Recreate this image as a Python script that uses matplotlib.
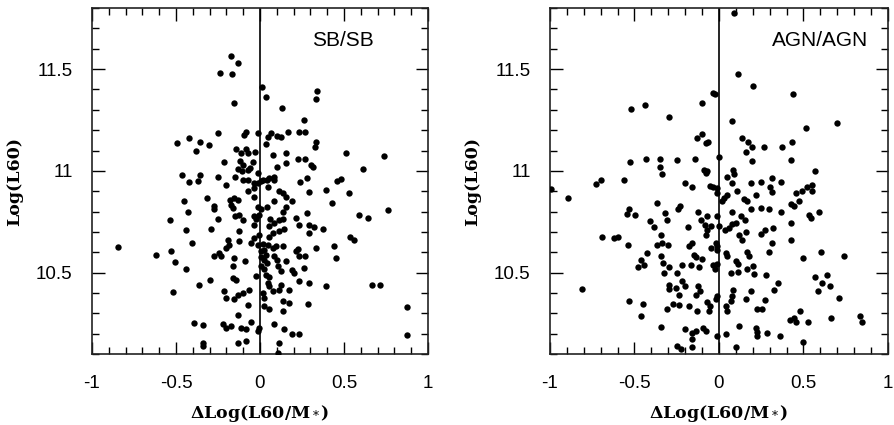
import matplotlib
matplotlib.use("Agg")
import matplotlib.pyplot as plt
from matplotlib.ticker import MultipleLocator

# (x, y) = (Delta log(L60/M*), log(L60))
sb_points = [
    (-0.172, 11.566), (-0.132, 11.53), (-0.24, 11.48), (-0.166, 11.475), (-0.154, 11.333),
    (-0.496, 11.136), (-0.422, 11.16), (-0.356, 11.144), (-0.378, 11.097), (-0.302, 11.128),
    (-0.466, 10.98), (-0.356, 10.98), (-0.422, 10.943), (-0.366, 10.95),
    (0.014, 11.41), (0.034, 11.364), (0.34, 11.393), (0.334, 11.351), (0.134, 11.311), (0.26, 11.25),
    (0.334, 11.144), (0.326, 11.118), (0.514, 11.087), (0.736, 11.074), (0.616, 11.008),
    (0.306, 11.03), (0.314, 11.02), (0.46, 10.95), (0.484, 10.96), (0.28, 10.964),
    (0.266, 11.06), (0.266, 11.19),
    (0.29, 10.897), (0.396, 10.905), (0.532, 10.892), (0.43, 10.844), (0.762, 10.808),
    (0.59, 10.782), (0.644, 10.767), (0.28, 10.795), (0.29, 10.736), (0.32, 10.725),
    (0.294, 10.695), (0.374, 10.716), (0.538, 10.675), (0.562, 10.662), (0.336, 10.621),
    (0.442, 10.63), (0.45, 10.57), (0.266, 10.582), (0.264, 10.523), (0.294, 10.451),
    (0.396, 10.434), (0.664, 10.441), (0.716, 10.441), (0.286, 10.348), (0.876, 10.333),
    (0.876, 10.195),
    (-0.45, 10.851), (-0.426, 10.80), (-0.538, 10.761), (-0.314, 10.867), (-0.276, 10.828),
    (-0.274, 10.815), (-0.442, 10.708), (-0.29, 10.716), (-0.404, 10.644), (-0.844, 10.626),
    (-0.618, 10.589), (-0.53, 10.607), (-0.506, 10.552), (-0.442, 10.516), (-0.276, 10.58),
    (-0.364, 10.438), (-0.296, 10.462), (-0.52, 10.403), (-0.39, 10.254), (-0.338, 10.241),
    (-0.338, 10.156), (-0.338, 10.139),
    (-0.252, 11.185), (-0.097, 11.176), (-0.083, 11.193), (-0.01, 11.185), (0.046, 11.168),
    (0.065, 11.185), (0.036, 11.131), (0.10, 11.17), (0.125, 11.168), (0.165, 11.193),
    (0.234, 11.193), (-0.143, 11.106), (-0.113, 11.087), (-0.083, 11.106), (-0.073, 11.087),
    (-0.03, 11.095), (0.075, 11.078), (0.155, 11.087), (-0.212, 11.042), (-0.117, 11.05),
    (-0.103, 11.03), (-0.044, 11.046), (0.10, 11.02), (0.155, 11.038), (0.224, 11.059),
    (-0.129, 11.008), (-0.109, 11.0), (-0.073, 11.005), (-0.058, 11.013), (-0.248, 10.972),
    (-0.149, 10.969), (-0.103, 10.953), (-0.073, 10.956), (-0.014, 10.992), (0.016, 10.956),
    (0.042, 10.953), (0.056, 10.967), (0.081, 10.972), (0.081, 10.953), (-0.202, 10.931),
    (-0.038, 10.94), (-0.01, 10.94), (0.006, 10.948), (0.24, 10.943), (-0.073, 10.899),
    (-0.034, 10.915), (0.046, 10.923), (0.115, 10.899), (0.135, 10.891), (-0.034, 10.871),
    (-0.177, 10.858), (-0.153, 10.866), (-0.129, 10.858), (-0.173, 10.833), (-0.163, 10.817),
    (0.155, 10.874), (0.188, 10.853), (0.085, 10.85), (0.042, 10.822), (0.006, 10.812),
    (-0.01, 10.822), (0.155, 10.822), (0.135, 10.8), (-0.149, 10.776), (-0.123, 10.784),
    (-0.103, 10.757), (-0.034, 10.776), (-0.024, 10.763), (-0.004, 10.784), (-0.248, 10.763),
    (0.062, 10.763), (0.085, 10.743), (0.115, 10.76), (0.135, 10.763), (0.214, 10.768),
    (0.234, 10.735), (-0.034, 10.735), (-0.123, 10.703), (0.115, 10.703), (0.145, 10.714),
    (0.056, 10.727), (0.075, 10.694), (0.056, 10.675), (-0.004, 10.686), (-0.038, 10.67),
    (-0.192, 10.662), (-0.182, 10.637), (-0.123, 10.654), (-0.054, 10.645), (-0.014, 10.637),
    (0.016, 10.642), (0.046, 10.637), (0.075, 10.621), (0.095, 10.632), (0.135, 10.629),
    (0.224, 10.616), (-0.202, 10.621), (-0.242, 10.596), (-0.232, 10.58), (-0.153, 10.572),
    (0.006, 10.605), (0.026, 10.609), (0.036, 10.588), (0.006, 10.577), (0.026, 10.564),
    (0.042, 10.547), (0.085, 10.58), (0.10, 10.564), (0.155, 10.556), (0.214, 10.605),
    (0.234, 10.58), (-0.089, 10.556), (-0.163, 10.534), (0.006, 10.531), (0.026, 10.518),
    (0.105, 10.531), (0.125, 10.507), (0.188, 10.515), (0.204, 10.498), (-0.024, 10.482),
    (0.036, 10.49), (0.056, 10.479), (-0.163, 10.474), (-0.143, 10.466), (0.234, 10.461),
    (0.046, 10.449), (0.056, 10.433), (0.125, 10.441), (0.075, 10.408), (0.115, 10.413),
    (0.175, 10.417), (-0.216, 10.408), (-0.202, 10.376), (-0.133, 10.392), (-0.103, 10.4),
    (-0.063, 10.417), (0.016, 10.4), (-0.153, 10.368), (-0.073, 10.343), (0.026, 10.376),
    (0.026, 10.335), (0.056, 10.319), (0.135, 10.359), (0.175, 10.351), (0.135, 10.31),
    (-0.133, 10.294), (-0.054, 10.257), (-0.014, 10.212), (-0.004, 10.229), (-0.222, 10.25),
    (-0.202, 10.229), (-0.173, 10.237), (-0.113, 10.229), (-0.083, 10.221), (0.085, 10.25),
    (0.145, 10.224), (0.188, 10.196), (0.234, 10.196), (-0.133, 10.152), (-0.083, 10.163),
    (0.115, 10.152), (0.105, 10.106),
]

agn_points = [
    (-0.518, 11.303), (-0.44, 11.325), (-0.294, 11.266), (-0.1, 11.334), (-0.034, 11.385),
    (-0.024, 11.377), (-0.524, 11.046), (-0.43, 11.057), (-0.35, 11.057), (-0.35, 11.02),
    (-0.338, 10.984),
    (0.088, 11.775), (0.112, 11.474), (0.20, 11.415), (0.438, 11.38), (0.514, 11.213),
    (0.70, 11.233), (0.434, 11.144), (0.374, 11.118), (0.264, 11.118), (0.424, 11.052),
    (0.568, 11.0), (0.314, 10.967),
    (0.37, 10.946), (0.30, 10.921), (0.314, 10.897), (0.454, 10.892), (0.494, 10.902),
    (0.524, 10.921), (0.548, 10.929), (0.55, 10.902), (0.474, 10.852), (0.424, 10.839),
    (0.444, 10.826), (0.298, 10.811), (0.37, 10.798), (0.534, 10.782), (0.544, 10.766),
    (0.594, 10.798), (0.32, 10.721), (0.274, 10.708), (0.428, 10.746), (0.424, 10.659),
    (0.314, 10.646), (0.294, 10.602), (0.50, 10.57), (0.604, 10.603), (0.74, 10.58),
    (0.278, 10.487), (0.57, 10.479), (0.64, 10.489), (0.608, 10.449), (0.658, 10.433),
    (0.584, 10.41), (0.35, 10.449), (0.324, 10.416), (0.71, 10.377), (0.274, 10.367),
    (0.48, 10.31), (0.42, 10.269), (0.454, 10.257), (0.444, 10.279), (0.528, 10.257),
    (0.664, 10.279), (0.834, 10.285), (0.848, 10.257), (0.36, 10.189), (0.50, 10.159),
    (0.284, 10.205),
    (-0.73, 10.934), (-0.70, 10.957), (-0.562, 10.954), (-0.995, 10.913), (-0.894, 10.867),
    (-0.534, 10.815), (-0.544, 10.787), (-0.498, 10.782), (-0.368, 10.844), (-0.32, 10.795),
    (-0.308, 10.757), (-0.408, 10.754), (-0.384, 10.725), (-0.694, 10.675), (-0.624, 10.67),
    (-0.60, 10.675), (-0.54, 10.638), (-0.344, 10.687), (-0.368, 10.634), (-0.34, 10.646),
    (-0.30, 10.638), (-0.424, 10.598), (-0.344, 10.582), (-0.46, 10.564), (-0.48, 10.528),
    (-0.444, 10.536), (-0.33, 10.548), (-0.328, 10.498), (-0.294, 10.528), (-0.81, 10.418),
    (-0.298, 10.438), (-0.294, 10.421), (-0.534, 10.361), (-0.45, 10.348), (-0.464, 10.285),
    (-0.31, 10.32), (-0.274, 10.348), (-0.344, 10.233),
    (0.075, 11.247), (-0.132, 11.16), (-0.099, 11.181), (-0.079, 11.136), (-0.063, 11.144),
    (0.138, 11.16), (0.172, 11.144), (0.197, 11.119), (0.158, 11.095), (-0.25, 11.054),
    (-0.144, 11.057), (0.0, 11.07), (0.197, 11.049), (-0.089, 11.005), (-0.069, 10.997),
    (-0.079, 10.989), (0.049, 10.972), (0.085, 11.005), (0.089, 10.985), (-0.201, 10.94),
    (-0.158, 10.92), (-0.053, 10.926), (-0.034, 10.92), (-0.01, 10.915), (-0.01, 10.89),
    (0.079, 10.94), (0.191, 10.94), (0.25, 10.943), (0.049, 10.882), (0.03, 10.866),
    (0.02, 10.85), (0.108, 10.899), (0.148, 10.861), (0.168, 10.85), (0.217, 10.882),
    (-0.231, 10.825), (-0.243, 10.812), (-0.124, 10.80), (-0.073, 10.78), (-0.108, 10.76),
    (-0.014, 10.78), (0.079, 10.796), (0.128, 10.776), (0.152, 10.76), (0.191, 10.812),
    (0.25, 10.817), (0.079, 10.74), (0.099, 10.743), (-0.085, 10.735), (-0.071, 10.711),
    (-0.077, 10.686), (-0.049, 10.727), (0.0, 10.727), (-0.183, 10.724), (0.034, 10.711),
    (0.059, 10.719), (0.118, 10.686), (0.138, 10.662), (0.158, 10.698), (0.25, 10.691),
    (-0.178, 10.632), (-0.158, 10.645), (-0.049, 10.621), (-0.02, 10.645), (-0.014, 10.629),
    (-0.01, 10.613), (0.039, 10.596), (0.049, 10.58), (0.168, 10.6), (0.178, 10.58),
    (-0.148, 10.588), (-0.138, 10.577), (-0.099, 10.567), (-0.217, 10.539), (-0.168, 10.539),
    (-0.118, 10.528), (-0.034, 10.539), (-0.014, 10.544), (-0.026, 10.518), (0.099, 10.556),
    (0.114, 10.544), (0.069, 10.498), (0.112, 10.502), (0.168, 10.518), (0.201, 10.534),
    (0.207, 10.495), (-0.25, 10.498), (-0.217, 10.458), (-0.203, 10.433), (-0.256, 10.425),
    (-0.237, 10.392), (-0.124, 10.433), (-0.112, 10.408), (-0.138, 10.392), (-0.178, 10.335),
    (-0.237, 10.343), (-0.069, 10.355), (-0.053, 10.338), (-0.059, 10.31), (-0.02, 10.371),
    (-0.014, 10.384), (-0.132, 10.31), (0.085, 10.417), (0.079, 10.384), (0.069, 10.359),
    (0.039, 10.335), (0.049, 10.31), (0.158, 10.371), (0.227, 10.319), (0.256, 10.319),
    (0.187, 10.408), (0.118, 10.24), (0.217, 10.229), (0.223, 10.208), (0.227, 10.188),
    (-0.203, 10.225), (-0.158, 10.204), (-0.138, 10.212), (-0.093, 10.229), (-0.079, 10.212),
    (-0.01, 10.191), (0.039, 10.196), (-0.158, 10.172), (-0.247, 10.139), (-0.227, 10.123),
    (-0.158, 10.136), (0.099, 10.136),
]

x_ticks = [-1, -0.5, 0, 0.5, 1]
x_labels = ["-1", "-0.5", "0", "0.5", "1"]
y_ticks = [10.5, 11, 11.5]
y_labels = ["10.5", "11", "11.5"]

plt.rcParams["mathtext.fontset"] = "dejavuserif"

fig = plt.figure(figsize=(8.94, 4.25), dpi=100)

panels = [
    (sb_points, "SB/SB", [0.1029, 0.167, 0.3758, 0.814], 0.7455),
    (agn_points, "AGN/AGN", [0.6152, 0.167, 0.378, 0.814], 0.80),
]

for points, name, rect, name_x in panels:
    ax = fig.add_axes(rect)
    xs = [p[0] for p in points]
    ys = [p[1] for p in points]
    ax.scatter(xs, ys, s=21, c="black", linewidths=0, zorder=3)
    ax.axvline(0, color="black", lw=1.2, zorder=2)

    ax.set_xlim(-1, 1)
    ax.set_ylim(10.1, 11.8)
    ax.set_xticks(x_ticks)
    ax.set_xticklabels(x_labels, family="Liberation Sans")
    ax.set_yticks(y_ticks)
    ax.set_yticklabels(y_labels, family="Liberation Sans")
    ax.xaxis.set_minor_locator(MultipleLocator(0.1))
    ax.yaxis.set_minor_locator(MultipleLocator(0.1))
    ax.tick_params(which="both", direction="in", top=True, right=True,
                   width=1.0, colors="black", labelsize=13.5)
    ax.tick_params(which="major", length=9)
    ax.tick_params(which="minor", length=5)
    ax.tick_params(axis="x", pad=15)
    ax.tick_params(axis="y", pad=14)
    for sp in ax.spines.values():
        sp.set_linewidth(1.2)
        sp.set_color("#222222")

    ax.set_xlabel(r"ΔLog(L60/M$_*$)", family="DejaVu Serif",
                  fontweight="bold", fontsize=12.5)
    ax.set_ylabel("Log(L60)", family="DejaVu Serif",
                  fontweight="bold", fontsize=12.5)
    ax.xaxis.set_label_coords(0.5, -0.143)
    ax.yaxis.set_label_coords(-0.205, 0.5)

    ax.text(name_x, 0.907, name, transform=ax.transAxes, ha="center",
            va="center", family="Liberation Sans", fontsize=15)

fig.savefig("out.png", dpi=100)
